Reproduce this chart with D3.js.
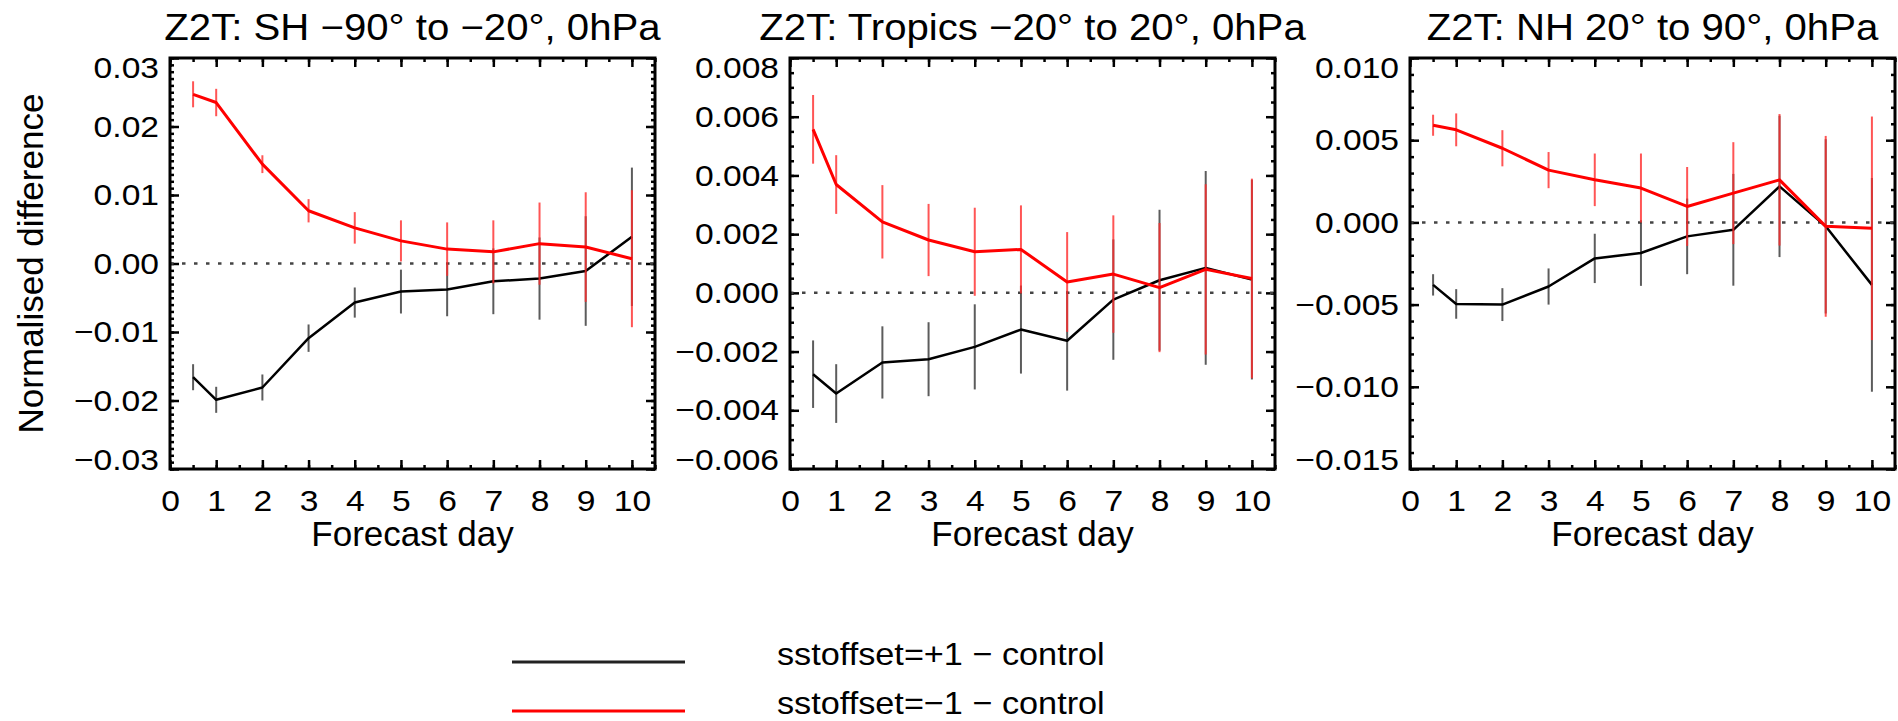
<!DOCTYPE html>
<html>
<head>
<meta charset="utf-8">
<script src="https://cdn.jsdelivr.net/npm/d3@7"></script>
<style>
  html, body { margin: 0; padding: 0; background: #fff; }
  svg { display: block; font-family: "Liberation Sans", Arial, Helvetica, sans-serif; }
</style>
</head>
<body>
<svg id="chart" width="1898" height="721"></svg>
<script>
// ---------------- data ----------------
const days = [0.5, 1, 2, 3, 4, 5, 6, 7, 8, 9, 10];
const xTickValues = [0, 1, 2, 3, 4, 5, 6, 7, 8, 9, 10];
const xDomain = [0, 10.5];

const panelTitles = [
  "Z2T: SH \u221290\u00b0 to \u221220\u00b0, 0hPa",
  "Z2T: Tropics \u221220\u00b0 to 20\u00b0, 0hPa",
  "Z2T: NH 20\u00b0 to 90\u00b0, 0hPa"
];

// sstoffset=+1 - control (black)
const shPlus     = [-0.0166, -0.0199, -0.0181, -0.0109, -0.0057, -0.0041, -0.0038, -0.0026, -0.0022, -0.0011, 0.0039];
const shPlusErr  = [0.0019, 0.0019, 0.0019, 0.0020, 0.0022, 0.0032, 0.0039, 0.0048, 0.0060, 0.0080, 0.0101];
// sstoffset=-1 - control (red)
const shMinus    = [0.0247, 0.0235, 0.0145, 0.0077, 0.0052, 0.0033, 0.0021, 0.0017, 0.0029, 0.0024, 0.0007];
const shMinusErr = [0.0019, 0.0020, 0.0013, 0.0017, 0.0023, 0.0030, 0.0039, 0.0046, 0.0060, 0.0080, 0.0100];

const trPlus     = [-0.00277, -0.00343, -0.00237, -0.00226, -0.00184, -0.00125, -0.00163, -0.00023, 0.00043, 0.00085, 0.00045];
const trPlusErr  = [0.00115, 0.00100, 0.00123, 0.00126, 0.00145, 0.00150, 0.00170, 0.00205, 0.00240, 0.00330, 0.00340];
const trMinus    = [0.00557, 0.00369, 0.00242, 0.00180, 0.00140, 0.00148, 0.00037, 0.00064, 0.00018, 0.00080, 0.00049];
const trMinusErr = [0.00117, 0.00100, 0.00125, 0.00123, 0.00150, 0.00150, 0.00170, 0.00200, 0.00220, 0.00290, 0.00340];

const nhPlus     = [-0.0038, -0.00496, -0.0050, -0.0039, -0.00219, -0.00186, -0.00085, -0.00045, 0.00219, -0.00024, -0.0038];
const nhPlusErr  = [0.00065, 0.0009, 0.0010, 0.0011, 0.0015, 0.0020, 0.0023, 0.0034, 0.0043, 0.0053, 0.0065];
const nhMinus    = [0.00591, 0.00563, 0.00451, 0.00318, 0.00259, 0.00209, 0.00097, 0.00178, 0.00259, -0.00024, -0.00036];
const nhMinusErr = [0.00064, 0.0010, 0.0011, 0.0011, 0.0016, 0.0021, 0.0024, 0.0031, 0.0040, 0.0055, 0.0068];

const shYTicks = [-0.03, -0.02, -0.01, 0.00, 0.01, 0.02, 0.03];
const trYTicks = [-0.006, -0.004, -0.002, 0.000, 0.002, 0.004, 0.006, 0.008];
const nhYTicks = [-0.015, -0.010, -0.005, 0.000, 0.005, 0.010];
const yTickDecimals = [2, 3, 3];
const yMinorSteps = [0.001, 0.0005, 0.001];

const legendLabels = ["sstoffset=+1 \u2212 control", "sstoffset=\u22121 \u2212 control"];

const xAxisTitle = "Forecast day";
const yAxisTitle = "Normalised difference";

// ---------------- layout ----------------
const svg = d3.select("#chart");
const boxLefts = [170, 790, 1410];
const boxW = 485, boxTop = 58, boxBottom = 469;
const BLACK = "#000000", RED = "#ff0000";

function stretch(sel, f) {
  sel.each(function () {
    const L = this.getComputedTextLength();
    this.setAttribute("textLength", L * f);
    this.setAttribute("lengthAdjust", "spacingAndGlyphs");
  });
}

const panels = [
  { title: panelTitles[0], plus: shPlus, plusErr: shPlusErr, minus: shMinus, minusErr: shMinusErr, ticks: shYTicks, dec: yTickDecimals[0], minor: yMinorSteps[0] },
  { title: panelTitles[1], plus: trPlus, plusErr: trPlusErr, minus: trMinus, minusErr: trMinusErr, ticks: trYTicks, dec: yTickDecimals[1], minor: yMinorSteps[1] },
  { title: panelTitles[2], plus: nhPlus, plusErr: nhPlusErr, minus: nhMinus, minusErr: nhMinusErr, ticks: nhYTicks, dec: yTickDecimals[2], minor: yMinorSteps[2] }
];

panels.forEach((p, i) => {
  const left = boxLefts[i];
  const x = d3.scaleLinear().domain(xDomain).range([left, left + boxW]);
  const ymin = p.ticks[0], ymax = p.ticks[p.ticks.length - 1];
  const y = d3.scaleLinear().domain([ymin, ymax]).range([boxBottom, boxTop]);
  const g = svg.append("g");

  // minor tick values
  const nMinor = Math.round((ymax - ymin) / p.minor);
  const yMinor = d3.range(nMinor + 1).map(k => ymin + k * p.minor);
  const xMinor = d3.range(0, xDomain[1] + 0.01, 0.5);

  const tickStyle = sel => {
    sel.select(".domain").remove();
    sel.selectAll(".tick line").attr("stroke", "#000").attr("stroke-width", 2.5);
  };

  // minor ticks (all four sides)
  g.append("g").attr("transform", `translate(${left},0)`)
    .call(d3.axisLeft(y).tickValues(yMinor).tickSize(-4).tickFormat("")).call(tickStyle);
  g.append("g").attr("transform", `translate(${left + boxW},0)`)
    .call(d3.axisRight(y).tickValues(yMinor).tickSize(-4).tickFormat("")).call(tickStyle);
  g.append("g").attr("transform", `translate(0,${boxBottom})`)
    .call(d3.axisBottom(x).tickValues(xMinor).tickSize(-4).tickFormat("")).call(tickStyle);
  g.append("g").attr("transform", `translate(0,${boxTop})`)
    .call(d3.axisTop(x).tickValues(xMinor).tickSize(-4).tickFormat("")).call(tickStyle);

  // major ticks
  const fmt = d3.format(`.${p.dec}f`);
  const yAx = g.append("g").attr("transform", `translate(${left},0)`)
    .call(d3.axisLeft(y).tickValues(p.ticks).tickSizeInner(-9).tickSizeOuter(0).tickPadding(11).tickFormat(fmt))
    .call(tickStyle);
  yAx.selectAll(".tick text")
    .attr("font-size", 30).attr("fill", "#000")
    .attr("font-family", '"Liberation Sans", Arial, sans-serif')
    .attr("dy", (d, k) => k === 0 ? "-0.0em" : (k === p.ticks.length - 1 ? "0.64em" : "0.32em"))
    .call(stretch, 1.12);
  g.append("g").attr("transform", `translate(${left + boxW},0)`)
    .call(d3.axisRight(y).tickValues(p.ticks).tickSize(-9).tickFormat("")).call(tickStyle);

  const xAx = g.append("g").attr("transform", `translate(0,${boxBottom})`)
    .call(d3.axisBottom(x).tickValues(xTickValues).tickSizeInner(-9).tickSizeOuter(0).tickPadding(0).tickFormat(d3.format("d")))
    .call(tickStyle);
  xAx.selectAll(".tick text")
    .attr("font-size", 30).attr("fill", "#000")
    .attr("font-family", '"Liberation Sans", Arial, sans-serif')
    .attr("y", 42).attr("dy", 0)
    .call(stretch, 1.12);
  g.append("g").attr("transform", `translate(0,${boxTop})`)
    .call(d3.axisTop(x).tickValues(xTickValues).tickSize(-9).tickFormat("")).call(tickStyle);

  // zero line (dotted)
  g.append("line")
    .attr("x1", x(xDomain[0])).attr("x2", x(xDomain[1])).attr("y1", y(0)).attr("y2", y(0))
    .attr("stroke", "#444").attr("stroke-width", 2.5).attr("stroke-dasharray", "3.5,8.5");

  // series
  const series = [
    { v: p.plus, e: p.plusErr, color: BLACK, bar: "#333333", w: 2.5 },
    { v: p.minus, e: p.minusErr, color: RED, bar: "#ff2a2a", w: 3 }
  ];
  series.forEach(s => {
    g.append("g").selectAll("line").data(days).join("line")
      .attr("x1", (d) => x(d)).attr("x2", (d) => x(d))
      .attr("y1", (d, k) => y(s.v[k] - s.e[k]))
      .attr("y2", (d, k) => y(s.v[k] + s.e[k]))
      .attr("stroke", s.bar).attr("stroke-width", 2).attr("stroke-opacity", 0.8);
    const line = d3.line().x((d) => x(d)).y((d, k) => y(s.v[k]));
    g.append("path").datum(days).attr("d", line)
      .attr("fill", "none").attr("stroke", s.color).attr("stroke-width", s.w)
      .attr("stroke-linejoin", "round");
  });

  // box
  g.append("rect").attr("x", left).attr("y", boxTop).attr("width", boxW).attr("height", boxBottom - boxTop)
    .attr("fill", "none").attr("stroke", "#000").attr("stroke-width", 3);

  // title
  svg.append("text").attr("x", left + boxW / 2).attr("y", 40)
    .attr("text-anchor", "middle").attr("font-size", 37).attr("fill", "#000")
    .text(p.title).call(stretch, 1.085);

  // x axis title
  svg.append("text").attr("x", left + boxW / 2).attr("y", 546)
    .attr("text-anchor", "middle").attr("font-size", 35).attr("fill", "#000")
    .text(xAxisTitle);
});

// y axis title
svg.append("text")
  .attr("transform", `translate(43,${(boxTop + boxBottom) / 2}) rotate(-90)`)
  .attr("text-anchor", "middle").attr("font-size", 35).attr("fill", "#000")
  .text(yAxisTitle);

// legend
const legendColors = [BLACK, RED];
const legendY = [662, 711];
legendLabels.forEach((lab, k) => {
  svg.append("line").attr("x1", 512).attr("x2", 685).attr("y1", legendY[k]).attr("y2", legendY[k])
    .attr("stroke", k === 0 ? "#222" : RED).attr("stroke-width", 3);
  svg.append("text").attr("x", 777).attr("y", legendY[k] + 3)
    .attr("font-size", 32).attr("fill", "#000").text(lab).call(stretch, 1.07);
});
</script>
</body>
</html>
